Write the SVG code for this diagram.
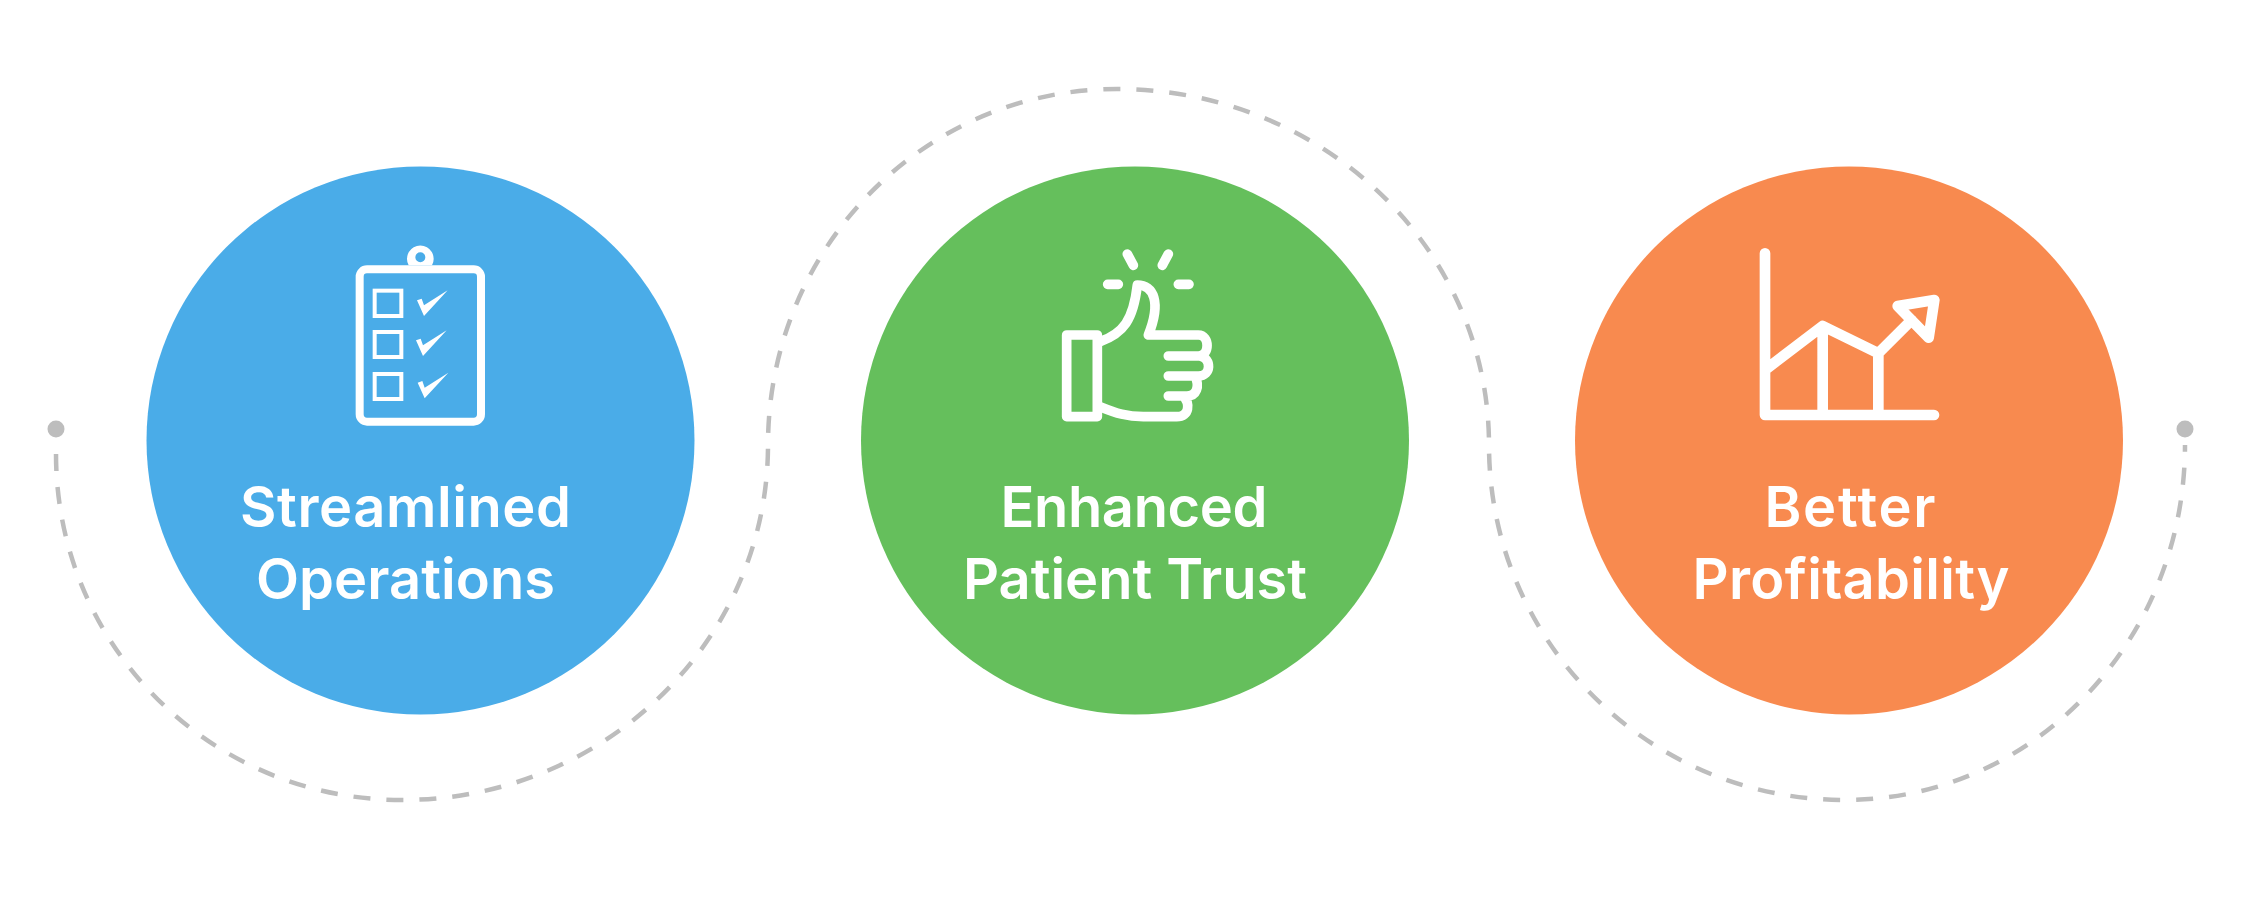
<svg xmlns="http://www.w3.org/2000/svg" width="2251" height="907" viewBox="0 0 2251 907">
<style>
.t{font-family:Inter,"Liberation Sans",sans-serif;font-size:56px;font-weight:600;fill:#fff;text-anchor:middle}
.ic{fill:none;stroke:#fff;stroke-linecap:round;stroke-linejoin:round}
.dash{fill:none;stroke:#bdbdbd;stroke-width:4.5;stroke-dasharray:17 16}
</style>
<rect width="2251" height="907" fill="#fff"/>
<g id="connectors">
<path class="dash" d="M56 454C56 646 211 800 402 800C604 800 768 641 768 445C768 248 924 89 1117 89C1322 89 1489 248 1489 445C1489 641 1648 800 1845 800C2033 800 2185 641 2185 445"/>
<circle cx="56" cy="429" r="8.5" fill="#bdbdbd"/>
<circle cx="2185" cy="429" r="8.5" fill="#bdbdbd"/>
</g>
<g id="node-streamlined">
<circle cx="420.5" cy="440.5" r="274" fill="#4aace8"/>
<g transform="translate(320 220) scale(.33333)">
<path fill-rule="evenodd" d="M266 136A40 40 0 1 1 336 136ZM301 97A15 15 0 1 0 301 127A15 15 0 1 0 301 97Z" fill="#fff"/>
<rect x="119" y="148" width="364" height="457" rx="22" fill="none" stroke="#fff" stroke-width="24"/>
<g fill="none" stroke="#fff" stroke-width="12">
<rect x="164" y="212" width="80" height="76"/>
<rect x="164" y="336" width="80" height="75"/>
<rect x="164" y="462" width="80" height="75"/>
</g>
<g fill="#fff">
<path d="M291 241L305 236L312 256L383 211L312 288Z"/>
<path d="M288 361L302 356L309 376L380 331L309 408Z"/>
<path d="M293 488L307 483L314 503L385 458L314 535Z"/>
</g>
</g>
<text class="t" x="405.5" y="527" textLength="331">Streamlined</text>
<text class="t" x="405.5" y="599" textLength="299">Operations</text>
</g>
<g id="node-trust">
<circle cx="1135" cy="440.5" r="274" fill="#65bf5c"/>
<g transform="translate(1040 230) scale(.33333)" class="ic" stroke-width="29">
<rect x="80" y="315" width="92" height="245"/>
<path d="M262 72L280 106M385 72L367 106M203 163H235M415 163H447"/>
<path d="M180 335C250 310 280 270 292 165C340 165 365 215 325 315H475C510 315 510 378 475 378H385M480 378C515 385 515 438 475 438H385M465 438C480 470 470 498 440 498H385M430 498C450 520 450 560 410 560H310C260 560 230 550 180 530"/>
</g>
<text class="t" x="1134" y="527" textLength="267">Enhanced</text>
<text class="t" x="1135" y="599" textLength="344">Patient Trust</text>
</g>
<g id="node-profit">
<circle cx="1849" cy="440.5" r="274" fill="#f88a4f"/>
<g transform="translate(1740 240) scale(.33333)" class="ic" stroke-width="32">
<path d="M75 40V525H582M75 390L248 258L415 340L515 240M248 258V525M415 340V525M473 198L583 180L566 293Z"/>
</g>
<text class="t" x="1850" y="527" textLength="171">Better</text>
<text class="t" x="1851" y="599" textLength="317">Profitability</text>
</g>
</svg>
